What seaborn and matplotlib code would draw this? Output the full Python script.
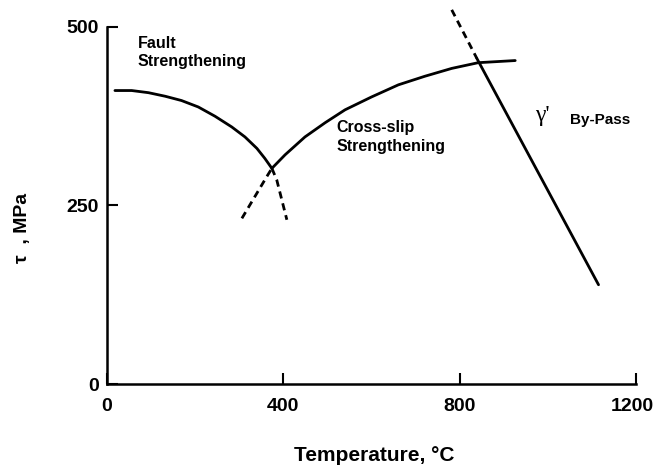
import matplotlib
matplotlib.use("Agg")
import matplotlib.pyplot as plt
import matplotlib.transforms as mtransforms
import seaborn as sns

# curve readings (temperature in C, shear stress in MPa)
fault_T = [18, 56, 94, 132, 169, 207, 245, 283, 313, 340, 358, 374]
fault_tau = [411, 411, 408, 403, 397, 388, 375, 360, 346, 330, 316, 302]
fault_ext_T = [374, 385, 408]
fault_ext_tau = [302, 286, 230]

cross_ext_T = [306, 362, 374]
cross_ext_tau = [232, 290, 302]
cross_T = [374, 404, 449, 495, 540, 600, 661, 721, 782, 842, 926]
cross_tau = [302, 321, 346, 366, 384, 402, 419, 431, 442, 450, 453]

bypass_ext_T = [782, 839]
bypass_ext_tau = [524, 456]
bypass_T = [839, 1115]
bypass_tau = [456, 139]

x_ticks = [0, 400, 800, 1200]
y_ticks = [0, 250, 500]

sns.set_style("ticks")
plt.rcParams['font.family'] = ['Liberation Sans', 'DejaVu Sans']
plt.rcParams['text.color'] = 'black'
plt.rcParams['axes.labelcolor'] = 'black'

fig = plt.figure(figsize=(6.56, 4.65), dpi=100)
ax = fig.add_axes([107 / 656, 81 / 465, 529 / 656, 382 / 465])

lw = 2.0
dash = (2.6, 1.8)
curves = [
    (fault_T, fault_tau, False),
    (fault_ext_T, fault_ext_tau, True),
    (cross_T, cross_tau, False),
    (cross_ext_T, cross_ext_tau, True),
    (bypass_T, bypass_tau, False),
    (bypass_ext_T, bypass_ext_tau, True),
]
for xs, ys, dashed in curves:
    sns.lineplot(x=xs, y=ys, ax=ax, color='black', lw=lw, sort=False, estimator=None)
    if dashed:
        ax.lines[-1].set_dashes(dash)

ax.set_xlim(0, 1200)
ax.set_ylim(0, 535)
ax.set_xticks(x_ticks)
ax.set_yticks(y_ticks)
sns.despine(ax=ax)
ax.spines['left'].set_bounds(0, 500)
ax.spines['bottom'].set_bounds(0, 1200)
for s in ['left', 'bottom']:
    ax.spines[s].set_linewidth(1.8)
    ax.spines[s].set_color('black')
ax.tick_params(axis='both', direction='in', length=8, width=1.5, color='black',
               labelsize=14, labelcolor='black')
ax.tick_params(axis='x', pad=10)
ax.tick_params(axis='y', pad=6)
for lab in ax.get_xticklabels() + ax.get_yticklabels():
    lab.set_fontweight('bold')
# keep the last x label inside the figure edge
last = ax.get_xticklabels()[-1]
last.set_transform(last.get_transform() + mtransforms.ScaledTranslation(-4 / 100, 0, fig.dpi_scale_trans))

ax.set_xlabel('Temperature, °C', fontsize=15, fontweight='bold', va='center')
ax.xaxis.set_label_coords(0.505, -0.186)
ax.set_ylabel('τ  , MPa', fontsize=14, fontweight='bold', va='center')
ax.yaxis.set_label_coords(-0.159, 0.408)

ax.text(70, 464, 'Fault\nStrengthening', fontsize=11.5, fontweight='bold',
        ha='left', va='center', linespacing=1.3)
ax.text(520, 346, 'Cross-slip\nStrengthening', fontsize=11.5, fontweight='bold',
        ha='left', va='center', linespacing=1.3)
ax.text(970, 376, "γ'", fontsize=17, family='Liberation Serif', ha='left', va='center')
ax.text(1050, 370, 'By-Pass', fontsize=11, fontweight='bold', ha='left', va='center')

fig.savefig('out.png', dpi=100, facecolor='white')
